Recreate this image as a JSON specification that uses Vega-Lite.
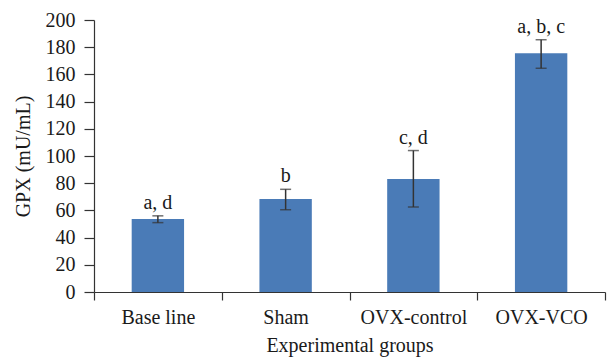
{
  "$schema": "https://vega.github.io/schema/vega-lite/v6.json",
  "autosize": {"type": "none"},
  "padding": {"left": 94, "top": 20, "right": 6, "bottom": 66},
  "width": 511,
  "height": 272,
  "background": "white",
  "config": {
    "view": {"stroke": null},
    "font": "Liberation Serif",
    "axis": {"labelFont": "Liberation Serif", "titleFont": "Liberation Serif", "labelColor": "#1a1a1a", "titleColor": "#1a1a1a", "domainColor": "#333333", "tickColor": "#333333", "titleFontWeight": "normal", "labelFontSize": 20, "titleFontSize": 20, "grid": false},
    "axisY": {"values": [0,20,40,60,80,100,120,140,160,180,200], "labelOverlap": false, "tickSize": 10, "labelPadding": 9, "titlePadding": 12, "domainWidth": 1.2, "tickWidth": 1.2}
  },
  "data": {
    "values": [
      {"group": "Base line", "mean": 53.7, "low": 51, "high": 56, "sig": "a, d"},
      {"group": "Sham", "mean": 68.4, "low": 60.5, "high": 75.5, "sig": "b"},
      {"group": "OVX-control", "mean": 83, "low": 62.5, "high": 104, "sig": "c, d"},
      {"group": "OVX-VCO", "mean": 175.5, "low": 164.5, "high": 185.5, "sig": "a, b, c"}
    ]
  },
  "encoding": {
    "x": {
      "field": "group", "type": "nominal", "sort": null,
      "scale": {"paddingInner": 0, "paddingOuter": 0},
      "axis": {"title": "Experimental groups", "labelAngle": 0, "tickBand": "extent", "tickSize": 8, "labelPadding": 7, "titlePadding": 8, "domainWidth": 1.2, "tickWidth": 1.2}
    }
  },
  "layer": [
    {
      "mark": {"type": "bar", "color": "#4a7bb7", "width": {"band": 0.41}},
      "encoding": {
        "y": {"field": "mean", "type": "quantitative", "scale": {"domain": [0, 200]},
          "axis": {"title": "GPX (mU/mL)", "values": [0,20,40,60,80,100,120,140,160,180,200], "labelOverlap": false}}
      }
    },
    {
      "mark": {"type": "rule", "color": "#333333", "strokeWidth": 1.5},
      "encoding": {"y": {"field": "low", "type": "quantitative", "axis": {"title": "GPX (mU/mL)", "values": [0,20,40,60,80,100,120,140,160,180,200], "labelOverlap": false}}, "y2": {"field": "high"}}
    },
    {
      "mark": {"type": "tick", "color": "#333333", "size": 11, "thickness": 1.5},
      "encoding": {"y": {"field": "low", "type": "quantitative", "axis": {"title": "GPX (mU/mL)", "values": [0,20,40,60,80,100,120,140,160,180,200], "labelOverlap": false}}}
    },
    {
      "mark": {"type": "tick", "color": "#333333", "size": 11, "thickness": 1.5},
      "encoding": {"y": {"field": "high", "type": "quantitative", "axis": {"title": "GPX (mU/mL)", "values": [0,20,40,60,80,100,120,140,160,180,200], "labelOverlap": false}}}
    },
    {
      "mark": {"type": "text", "baseline": "bottom", "dy": -3, "fontSize": 20, "color": "#1a1a1a"},
      "encoding": {"y": {"field": "high", "type": "quantitative", "axis": {"title": "GPX (mU/mL)", "values": [0,20,40,60,80,100,120,140,160,180,200], "labelOverlap": false}}, "text": {"field": "sig"}}
    }
  ]
}
